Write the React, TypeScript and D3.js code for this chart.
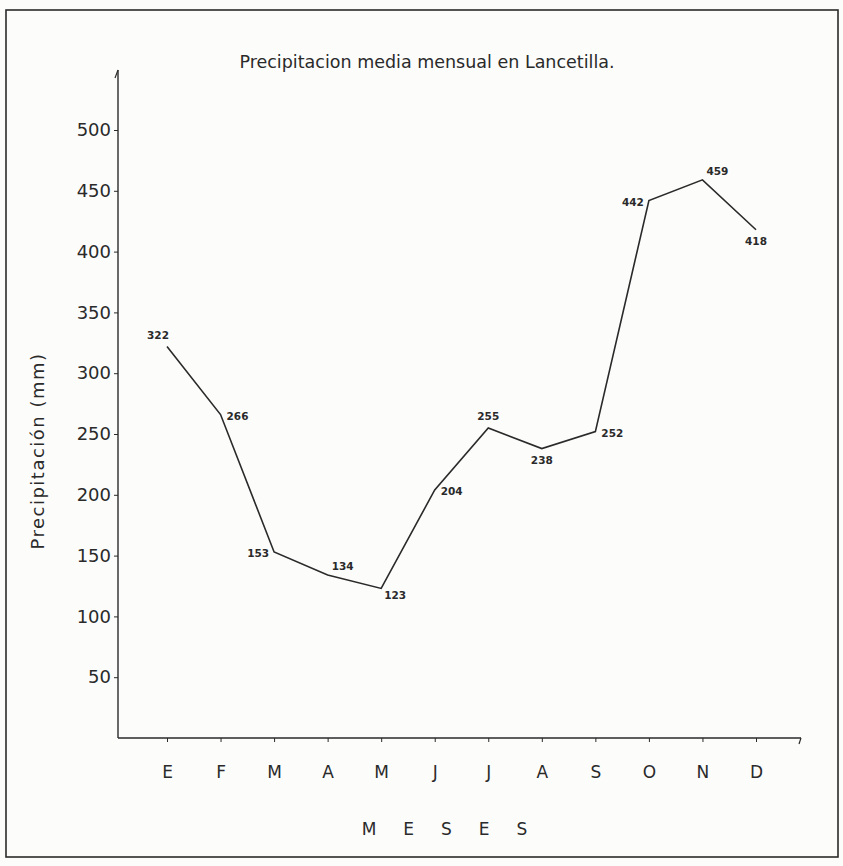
import * as d3 from 'd3';
import React, { useEffect, useRef } from 'react';

// Precipitación media mensual en Lancetilla (mm)
const months = ['E', 'F', 'M', 'A', 'M', 'J', 'J', 'A', 'S', 'O', 'N', 'D'];
const rainfall = [322, 266, 153, 134, 123, 204, 255, 238, 252, 442, 459, 418];
const yTicks = [50, 100, 150, 200, 250, 300, 350, 400, 450, 500];

// where each value label sits relative to its point
const labelSide = ['aboveLeft', 'right', 'left', 'aboveRight', 'belowRight', 'right',
  'above', 'below', 'right', 'left', 'aboveRight', 'below'];

const W = 843;
const H = 866;
const FONT = '"DejaVu Sans", "Liberation Sans", sans-serif';
const INK = '#2a2a2a';

const App = () => {
  const ref = useRef(null);

  useEffect(() => {
    const svg = d3.select(ref.current);
    svg.selectAll('*').remove();

    svg.append('rect')
      .attr('width', W).attr('height', H)
      .attr('fill', '#fcfcfb');

    // frame
    svg.append('rect')
      .attr('x', 6).attr('y', 10)
      .attr('width', 832).attr('height', 847)
      .attr('fill', 'none')
      .attr('stroke', INK)
      .attr('stroke-width', 1.6);

    const x = d3.scaleLinear().domain([0, 11]).range([167, 756]);
    const y = d3.scaleLinear().domain([0, 500]).range([738, 130]);

    const x0 = 118;
    const y0 = y(0);

    // axis lines
    svg.append('line')
      .attr('x1', x0).attr('x2', x0)
      .attr('y1', y0).attr('y2', 70)
      .attr('stroke', INK).attr('stroke-width', 1.4);
    svg.append('line')
      .attr('x1', x0).attr('x2', 801)
      .attr('y1', y0).attr('y2', y0)
      .attr('stroke', INK).attr('stroke-width', 1.4);
    svg.append('line')
      .attr('x1', 801).attr('x2', 799)
      .attr('y1', y0).attr('y2', y0 + 6)
      .attr('stroke', INK).attr('stroke-width', 1.2);
    svg.append('line')
      .attr('x1', x0).attr('x2', x0 - 3)
      .attr('y1', 70).attr('y2', 78)
      .attr('stroke', INK).attr('stroke-width', 1.2);

    // y axis
    const yAxis = d3.axisLeft(y)
      .tickValues(yTicks)
      .tickSize(4)
      .tickPadding(3)
      .tickFormat(d3.format('d'));
    const gy = svg.append('g')
      .attr('transform', `translate(${x0},0)`)
      .call(yAxis);
    gy.select('.domain').remove();
    gy.selectAll('line').attr('stroke', INK);
    gy.selectAll('text')
      .attr('fill', INK)
      .style('font-family', FONT)
      .style('font-size', '18px');

    // x axis
    const xAxis = d3.axisBottom(x)
      .tickValues(d3.range(months.length))
      .tickSize(4)
      .tickPadding(24)
      .tickFormat(i => months[i]);
    const gx = svg.append('g')
      .attr('transform', `translate(0,${y0})`)
      .call(xAxis);
    gx.select('.domain').remove();
    gx.selectAll('line').attr('stroke', INK);
    gx.selectAll('text')
      .attr('fill', INK)
      .style('font-family', FONT)
      .style('font-size', '17px');

    // line
    const line = d3.line()
      .x((d, i) => x(i))
      .y(d => y(d));
    svg.append('path')
      .datum(rainfall)
      .attr('d', line)
      .attr('fill', 'none')
      .attr('stroke', INK)
      .attr('stroke-width', 1.6)
      .attr('stroke-linejoin', 'miter');

    // value labels
    const offsets = {
      aboveLeft: [-9, -7, 'middle'],
      above: [0, -8, 'middle'],
      aboveRight: [4, -5, 'start'],
      right: [6, 5, 'start'],
      left: [-5, 5, 'end'],
      below: [0, 15, 'middle'],
      belowRight: [3, 11, 'start'],
    };
    svg.selectAll('.val')
      .data(rainfall)
      .enter()
      .append('text')
      .attr('class', 'val')
      .attr('x', (d, i) => x(i) + offsets[labelSide[i]][0])
      .attr('y', (d, i) => y(d) + offsets[labelSide[i]][1])
      .attr('text-anchor', (d, i) => offsets[labelSide[i]][2])
      .attr('fill', INK)
      .style('font-family', FONT)
      .style('font-size', '10.5px')
      .style('font-weight', 'bold')
      .text(d => d);

    // title & axis titles
    svg.append('text')
      .attr('x', 427).attr('y', 68)
      .attr('text-anchor', 'middle')
      .attr('fill', INK)
      .style('font-family', FONT)
      .style('font-size', '17.5px')
      .text('Precipitacion media mensual en Lancetilla.');

    svg.append('text')
      .attr('transform', 'translate(44,451) rotate(-90)')
      .attr('text-anchor', 'middle')
      .attr('fill', INK)
      .style('font-family', FONT)
      .style('font-size', '18px')
      .style('letter-spacing', '1.5px')
      .text('Precipitación (mm)');

    svg.append('text')
      .attr('x', 458).attr('y', 835)
      .attr('text-anchor', 'middle')
      .attr('fill', INK)
      .style('font-family', FONT)
      .style('font-size', '17px')
      .style('letter-spacing', '27px')
      .text('MESES');
  }, []);

  return (
    <svg ref={ref} width={W} height={H}
      style={{ position: 'absolute', left: 0, top: 0, display: 'block' }} />
  );
};

export default App;
